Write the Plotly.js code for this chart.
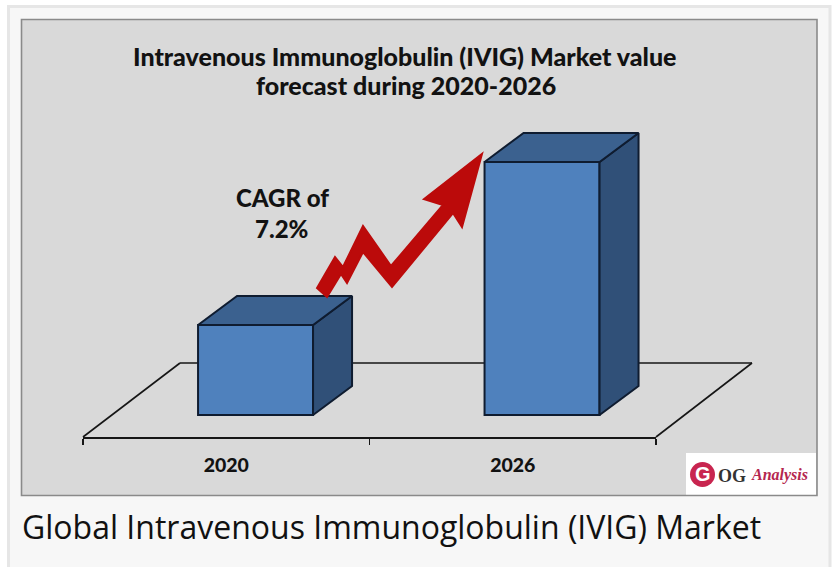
<!DOCTYPE html>
<html>
<head>
<meta charset="utf-8">
<script src="https://cdn.plot.ly/plotly-3.0.1.min.js"></script>
<style>html,body{margin:0;padding:0;background:#fff;overflow:hidden}#c{width:836px;height:567px}</style>
</head>
<body>
<div id="c"></div>
<script>
const categories = ['2020', '2026'];
const marketValue = [90, 253];
const titleLines = ['Intravenous Immunoglobulin (IVIG) Market value', 'forecast during 2020-2026'];
const cagrLines = ['CAGR of', '7.2%'];
const caption = 'Global Intravenous Immunoglobulin (IVIG) Market';

const W = 836, H = 567;
const L = 83, R = 656, T = 19, B = 437;
const px = x => (x - L) / (R - L);
const py = y => (B - y) / (B - T);
const catW = (R - L) / 2;
const barW = 115 / catW, barOff = -28.2 / catW;
const depthX = 39 / catW, depthY = 29;
const EDGE = '#0f1c30';

const sideX = [], sideY = [], topX = [], topY = [];
categories.forEach((c, i) => {
  const l = i + barOff, r = l + barW, v = marketValue[i];
  sideX.push(r, r + depthX, r + depthX, r, r, null);
  sideY.push(0, depthY, v + depthY, v, 0, null);
  topX.push(l, l + depthX, r + depthX, r, l, null);
  topY.push(v, v + depthY, v + depthY, v, v, null);
});

const traces = [
  { type: 'bar', x: categories, y: marketValue, width: barW, offset: barOff, xaxis: 'x', yaxis: 'y',
    marker: { color: '#4f81bd', line: { color: EDGE, width: 2 } }, hoverinfo: 'x+y' },
  { type: 'scatter', mode: 'lines', x: sideX, y: sideY, xaxis: 'x2', yaxis: 'y', fill: 'toself', fillcolor: '#305078',
    line: { color: EDGE, width: 2 }, hoverinfo: 'skip', cliponaxis: false },
  { type: 'scatter', mode: 'lines', x: topX, y: topY, xaxis: 'x2', yaxis: 'y', fill: 'toself', fillcolor: '#3b618f',
    line: { color: EDGE, width: 2 }, hoverinfo: 'skip', cliponaxis: false }
];

const pathOf = pts => 'M' + pts.map(p => px(p[0]) + ',' + py(p[1])).join('L') + 'Z';
const arrowOutline = [[317,288],[327,297],[341,274],[347,283],[363,252],[392,287],[453,213],[462,227],[482,154],[424,199],[443,205],[391,266],[363,226],[343,267],[335,257]];
const rectShape = (x0, y0, x1, y1, fill, line, lw) => ({ type: 'rect', xref: 'paper', yref: 'paper', layer: 'below',
  x0: px(x0), x1: px(x1), y0: py(y0), y1: py(y1), fillcolor: fill, line: { color: line || fill, width: lw || 0 } });
const floorLine = (x0, y0, x1, y1) => ({ type: 'line', xref: 'paper', yref: 'paper', layer: 'below',
  x0: px(x0), x1: px(x1), y0: py(y0), y1: py(y1), line: { color: '#161616', width: 1.6 } });

const shapes = [
  rectShape(8.5, 6.5, 830, 570, '#f7f7f7', '#e6e6e6', 3),
  rectShape(21.5, 19.5, 817, 495.5, '#d9d9d9', '#8a8a8a', 1.6),
  floorLine(83, 437, 180, 363),
  floorLine(180, 363, 752, 363),
  floorLine(752, 363, 656, 437),
  rectShape(686, 453, 816, 494.5, '#ffffff'),
  { type: 'circle', xref: 'paper', yref: 'paper', layer: 'below', x0: px(690), x1: px(715), y0: py(462), y1: py(487),
    fillcolor: '#c8254f', line: { width: 0 } },
  { type: 'path', xref: 'paper', yref: 'paper', layer: 'above', path: pathOf(arrowOutline),
    fillcolor: '#bb0a0a', line: { color: '#bb0a0a', width: 2 } }
];

const note = (text, x, y, size, extra) => Object.assign({
  text, xref: 'paper', yref: 'paper', x: px(x), y: py(y), showarrow: false, xanchor: 'center', yanchor: 'middle',
  font: Object.assign({ family: 'Lato, sans-serif', size, color: '#121212', weight: 900 }, extra || {})
});

const annotations = [
  note(titleLines[0], 404.5, 56, 25),
  note(titleLines[1], 405.5, 85, 25),
  note(cagrLines[0], 282, 198, 24),
  note(cagrLines[1], 281, 228, 24),
  Object.assign(note(caption, 20, 526, 32, { family: '"Open Sans", sans-serif', weight: 400, color: '#111111' }), { xanchor: 'left' }),
  note('G', 702.5, 474, 20, { family: 'Liberation Sans, sans-serif', color: '#ffffff', weight: 700 }),
  note('OG', 732, 476, 18, { family: 'Liberation Serif, serif', color: '#333333', weight: 700 }),
  note('Analysis', 779, 475, 16, { family: 'Liberation Serif, serif', color: '#b5264f', style: 'italic', weight: 700 })
];

const layout = {
  width: W, height: H, showlegend: false, paper_bgcolor: '#ffffff', plot_bgcolor: 'rgba(0,0,0,0)',
  margin: { l: L, r: W - R, t: T, b: H - B, pad: 0 },
  bargap: 0,
  xaxis: { type: 'category', categories, categoryorder: 'array', categoryarray: categories, range: [-0.5, 1.5],
    tickson: 'boundaries', ticks: 'outside', ticklen: 6, tickwidth: 1.6, tickcolor: '#161616',
    showline: true, linecolor: '#161616', linewidth: 1.6, showgrid: false, zeroline: false,
    ticklabelstandoff: 10, tickfont: { family: 'Lato, sans-serif', size: 19.5, color: '#121212', weight: 900 } },
  xaxis2: { type: 'linear', overlaying: 'x', range: [-0.5, 1.5], visible: false, fixedrange: true },
  yaxis: { range: [-22, 396], visible: false, fixedrange: true },
  shapes, annotations
};

Plotly.newPlot('c', traces, layout, { displayModeBar: false, staticPlot: true });
</script>
</body>
</html>
